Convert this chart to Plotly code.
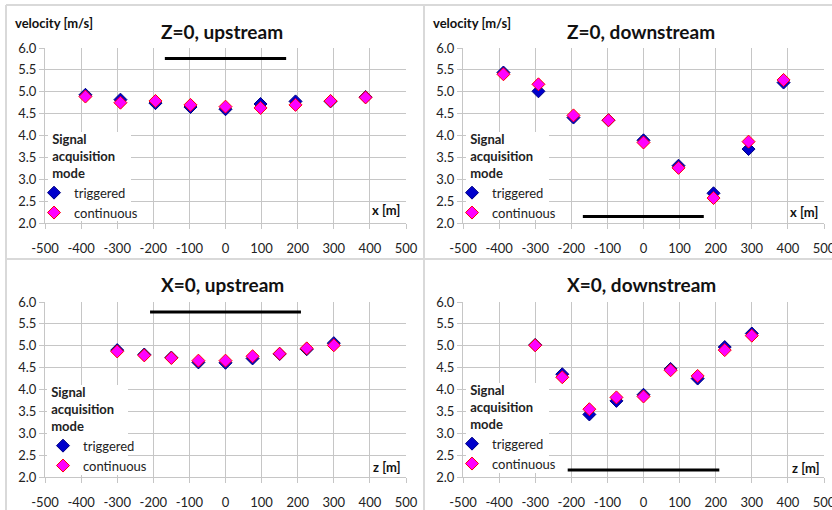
import plotly.graph_objects as go

# ---- data ----
x_pos = [-388, -291, -194, -97, 0, 97, 194, 291, 388]
z_pos = [-300, -225, -150, -75, 0, 75, 150, 225, 300]

z0_up_trig = [4.93, 4.82, 4.74, 4.65, 4.60, 4.72, 4.78, 4.78, 4.88]
z0_up_cont = [4.89, 4.75, 4.79, 4.70, 4.66, 4.63, 4.70, 4.79, 4.87]
z0_down_trig = [5.44, 5.01, 4.41, 4.35, 3.89, 3.31, 2.68, 3.69, 5.21]
z0_down_cont = [5.40, 5.17, 4.46, 4.35, 3.84, 3.26, 2.57, 3.86, 5.27]
x0_up_trig = [4.90, 4.80, 4.73, 4.62, 4.61, 4.71, 4.81, 4.92, 5.06]
x0_up_cont = [4.87, 4.78, 4.72, 4.66, 4.66, 4.76, 4.82, 4.94, 5.01]
x0_down_trig = [5.02, 4.35, 3.43, 3.74, 3.88, 4.47, 4.25, 4.97, 5.28]
x0_down_cont = [5.01, 4.28, 3.55, 3.82, 3.84, 4.44, 4.31, 4.90, 5.23]

# black reference bars (extent and level)
bar_z0_up = ([-168, 168], [5.76, 5.76])
bar_z0_down = ([-168, 167], [2.15, 2.15])
bar_x0_up = ([-209, 209], [5.77, 5.77])
bar_x0_down = ([-210, 210], [2.16, 2.16])

titles = ["Z=0, upstream", "Z=0, downstream", "X=0, upstream", "X=0, downstream"]
axis_names = ["x [m]", "x [m]", "z [m]", "z [m]"]
x_ticks = [-500, -400, -300, -200, -100, 0, 100, 200, 300, 400, 500]
x_tick_text = ["-500", "-400", "-300", "-200", "-100", "0", "100", "200", "300", "400", "500"]
y_ticks = [2.0, 2.5, 3.0, 3.5, 4.0, 4.5, 5.0, 5.5, 6.0]
y_tick_text = ["2.0", "2.5", "3.0", "3.5", "4.0", "4.5", "5.0", "5.5", "6.0"]

W, H = 832, 510
FONT = "Lato"
GRID = "#c6c6c6"
TRIG_FILL, TRIG_LINE = "#0000cc", "#000080"
CONT_FILL, CONT_LINE = "#ff00ff", "#ff0000"

panels = [
    (x_pos, z0_up_trig, z0_up_cont, bar_z0_up),
    (x_pos, z0_down_trig, z0_down_cont, bar_z0_down),
    (z_pos, x0_up_trig, x0_up_cont, bar_x0_up),
    (z_pos, x0_down_trig, x0_down_cont, bar_x0_down),
]

# plot areas in pixels (left, right, top, bottom)
areas = [(45, 406, 48, 223), (463, 824, 48, 223), (45, 406, 302, 477), (463, 824, 302, 477)]
# legend boxes in pixels (left, right, top, bottom)
leg_boxes = [(48, 131, 132, 221), (466, 549, 132, 220), (47, 128, 385, 475), (466, 549, 383, 473)]
leg_indent = [-13, -13, -3, -13]

fig = go.Figure()
legend_names = ["legend", "legend2", "legend3", "legend4"]
layout_upd = {}
shapes = []
for i, ((xs, trig, cont, bar), (l, r, t, b)) in enumerate(zip(panels, areas)):
    n = "" if i == 0 else str(i + 1)
    xa, ya = "x" + n, "y" + n
    lg = legend_names[i]
    fig.add_trace(go.Scatter(x=bar[0], y=bar[1], mode="lines",
                             line=dict(color="black", width=3), showlegend=False,
                             xaxis=xa, yaxis=ya, hoverinfo="skip"))
    fig.add_trace(go.Scatter(x=xs, y=trig, mode="markers", name="triggered",
                             marker=dict(symbol="diamond", size=10, color=TRIG_FILL,
                                         line=dict(color=TRIG_LINE, width=1)),
                             xaxis=xa, yaxis=ya, legend=lg))
    fig.add_trace(go.Scatter(x=xs, y=cont, mode="markers", name="continuous",
                             marker=dict(symbol="diamond", size=10, color=CONT_FILL,
                                         line=dict(color=CONT_LINE, width=1)),
                             xaxis=xa, yaxis=ya, legend=lg))
    layout_upd["xaxis" + n] = dict(
        domain=[l / W, r / W], anchor=ya, range=[-500, 500],
        tickvals=x_ticks, ticktext=x_tick_text, ticklabeloverflow="allow",
        showgrid=True, gridcolor=GRID, gridwidth=1, zeroline=False,
        showline=True, linecolor=GRID, ticks="outside", ticklen=5, tickcolor=GRID,
        tickfont=dict(family=FONT, size=13, color="#222"), ticklabelstandoff=8,
    )
    layout_upd["yaxis" + n] = dict(
        domain=[1 - b / H, 1 - t / H], anchor=xa, range=[2.0, 6.0],
        tickvals=y_ticks, ticktext=y_tick_text,
        showgrid=True, gridcolor=GRID, gridwidth=1, zeroline=False,
        showline=True, linecolor=GRID, ticks="outside", ticklen=5, tickcolor=GRID,
        tickfont=dict(family=FONT, size=13, color="#222"),
    )
    bl, br, bt, bb = leg_boxes[i]
    shapes.append(dict(type="rect", xref="paper", yref="paper", layer="above",
                       x0=bl / W, x1=br / W, y0=1 - bb / H, y1=1 - bt / H,
                       fillcolor="white", line=dict(width=0)))
    layout_upd[lg] = dict(
        x=(bl - 1) / W, y=1 - (bt - 5) / H, xanchor="left", yanchor="top",
        bgcolor="rgba(0,0,0,0)", borderwidth=0, indentation=leg_indent[i],
        font=dict(family=FONT, size=13, color="#222"),
        title=dict(text="<b>&nbsp;Signal<br>&nbsp;acquisition<br>&nbsp;mode</b>",
                   font=dict(family=FONT, size=13, color="#222")),
        tracegroupgap=0, itemwidth=30,
    )

annotations = []
title_pos = [(222, 31), (641, 31), (222, 284), (641, 284)]
for txt, (cx, cy) in zip(titles, title_pos):
    annotations.append(dict(text=f"<b>{txt}</b>", x=cx / W, y=1 - cy / H, xref="paper", yref="paper",
                            showarrow=False, xanchor="center", yanchor="middle",
                            font=dict(family=FONT, size=19, color="#111")))
for lx in (13, 431):
    annotations.append(dict(text="<b>velocity [m/s]</b>", x=lx / W, y=1 - 23 / H, xref="paper", yref="paper",
                            showarrow=False, xanchor="left", yanchor="middle",
                            font=dict(family=FONT, size=13, color="#111")))
lab_pos = [(402, 210), (820, 212), (402, 467), (821, 468)]
for txt, (rx, cy) in zip(axis_names, lab_pos):
    annotations.append(dict(text=f"<b>{txt}</b>", x=rx / W, y=1 - cy / H, xref="paper", yref="paper",
                            showarrow=False, xanchor="right", yanchor="middle",
                            font=dict(family=FONT, size=13, color="#111")))

BC = "#d9d9d9"
shapes += [
    dict(type="line", xref="paper", yref="paper", x0=6 / W, x1=1, y0=1 - 5 / H, y1=1 - 5 / H, line=dict(color=BC, width=2)),
    dict(type="line", xref="paper", yref="paper", x0=6 / W, x1=6 / W, y0=0, y1=1 - 5 / H, line=dict(color=BC, width=2)),
    dict(type="line", xref="paper", yref="paper", x0=424 / W, x1=424 / W, y0=0, y1=1 - 5 / H, line=dict(color=BC, width=2)),
    dict(type="line", xref="paper", yref="paper", x0=6 / W, x1=1, y0=1 - 259 / H, y1=1 - 259 / H, line=dict(color=BC, width=2)),
]

fig.update_layout(
    width=W, height=H, margin=dict(l=0, r=0, t=0, b=0, autoexpand=False),
    paper_bgcolor="white", plot_bgcolor="white",
    annotations=annotations, shapes=shapes, showlegend=True,
    font=dict(family=FONT),
    **layout_upd,
)

fig.write_html("out.html", config={"displayModeBar": False},
               post_script="document.body.style.margin='0';document.body.style.overflow='hidden';")
